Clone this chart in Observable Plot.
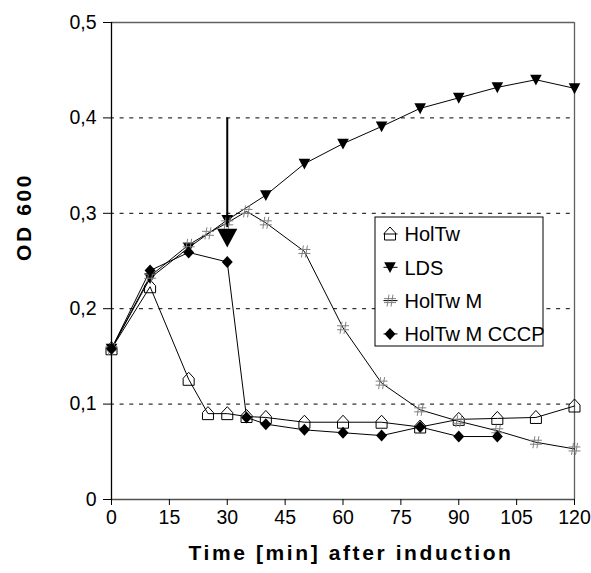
<!DOCTYPE html>
<html>
<head>
<meta charset="utf-8">
<script src="https://cdn.jsdelivr.net/npm/d3@7"></script>
<script src="https://cdn.jsdelivr.net/npm/@observablehq/plot@0.6"></script>
<style>
  html, body { margin: 0; padding: 0; background: #fff; }
  svg { font-family: "Liberation Sans", Arial, sans-serif; }
</style>
</head>
<body>
<div id="chart"></div>
<script>
// ---- data ----
const seriesNames = ["HolTw", "LDS", "HolTw M", "HolTw M CCCP"];

const holtwTime = [0, 10, 20, 25, 30, 35, 40, 50, 60, 70, 80, 90, 100, 110, 120];
const holtwOD   = [0.158, 0.223, 0.126, 0.090, 0.090, 0.087, 0.086, 0.081, 0.081, 0.081, 0.076, 0.084, 0.085, 0.086, 0.098];

const ldsTime = [0, 10, 20, 30, 40, 50, 60, 70, 80, 90, 100, 110, 120];
const ldsOD   = [0.158, 0.232, 0.264, 0.293, 0.319, 0.352, 0.373, 0.391, 0.410, 0.421, 0.432, 0.440, 0.431];

const holtwMTime = [0, 10, 20, 25, 30, 35, 40, 50, 60, 70, 80, 90, 100, 110, 120];
const holtwMOD   = [0.158, 0.234, 0.267, 0.279, 0.290, 0.302, 0.290, 0.260, 0.180, 0.122, 0.094, 0.082, 0.072, 0.060, 0.053];

const cccpTime = [0, 10, 20, 30, 35, 40, 50, 60, 70, 80, 90, 100];
const cccpOD   = [0.158, 0.240, 0.259, 0.249, 0.086, 0.079, 0.073, 0.070, 0.067, 0.076, 0.066, 0.066];

// induction arrow (time, from OD, to OD)
const arrowTime = [30];
const arrowFrom = [0.4];
const arrowTo = [0.285];
const arrowHead = [0.2746];

const xTicks = [0, 15, 30, 45, 60, 75, 90, 105, 120];
const yTicks = [0, 0.1, 0.2, 0.3, 0.4, 0.5];
const gridValues = [0.1, 0.2, 0.3, 0.4];

const xLabel = "Time [min] after induction";
const yLabel = "OD 600";

// ---- symbols ----
const house = { draw(ctx, size) { const k = Math.sqrt(size / Math.PI) / 5;
  ctx.moveTo(-5.5*k, 6*k); ctx.lineTo(5.5*k, 6*k); ctx.lineTo(5.5*k, -1*k);
  ctx.lineTo(0, -7*k); ctx.lineTo(-5.5*k, -1*k); ctx.closePath(); } };
const triDown = { draw(ctx, size) { const k = Math.sqrt(size / Math.PI) / 5;
  ctx.moveTo(-5.8*k, -5*k); ctx.lineTo(5.8*k, -5*k); ctx.lineTo(0, 5.8*k); ctx.closePath(); } };
const hash = { draw(ctx, size) { const k = Math.sqrt(size / Math.PI) / 5;
  ctx.moveTo(-1*k, -6*k); ctx.lineTo(-3*k, 6*k);
  ctx.moveTo(3*k, -6*k); ctx.lineTo(1*k, 6*k);
  ctx.moveTo(-6*k, -2*k); ctx.lineTo(6*k, -2*k);
  ctx.moveTo(-6*k, 2*k); ctx.lineTo(6*k, 2*k); } };
const diamond = { draw(ctx, size) { const k = Math.sqrt(size / Math.PI) / 5;
  ctx.moveTo(0, -6*k); ctx.lineTo(5.5*k, 0); ctx.lineTo(0, 6*k); ctx.lineTo(-5.5*k, 0); ctx.closePath(); } };

const zipS = (t, v) => t.map((x, i) => ({t: x, od: v[i]}));
const holtw = zipS(holtwTime, holtwOD);
const lds = zipS(ldsTime, ldsOD);
const holtwM = zipS(holtwMTime, holtwMOD);
const cccp = zipS(cccpTime, cccpOD);
const arrow = arrowTime.map((t, i) => ({t, y1: arrowFrom[i], y2: arrowTo[i], head: arrowHead[i]}));

const styles = [
  {symbol: house, fill: "none", stroke: "black", strokeWidth: 1},
  {symbol: triDown, fill: "black", stroke: "none"},
  {symbol: hash, fill: "none", stroke: "#808080", strokeWidth: 1},
  {symbol: diamond, fill: "black", stroke: "none"}
];
const allSeries = [holtw, lds, holtwM, cccp];

// legend layout (converted from pixel positions to the chart frame's units)
const W = 591, H = 573, mL = 111, mR = 17, mT = 22, mB = 74;
const px2y = py => 0.5 * (H - mB - py) / (H - mB - mT);
const px2x = px => 120 * (px - mL) / (W - mR - mL);
const legTop = 217, legBottom = 346, legLeft = 375, legRight = 543;
const legRows = seriesNames.map((n, i) => ({name: n, i, y: px2y(233.5 + i * 33.3)}));

const marks = [
  Plot.ruleY(gridValues, {stroke: "black", strokeWidth: 1, strokeDasharray: "4,5.7", strokeDashoffset: 1.1}),
  Plot.ruleY([0.5], {stroke: "#606060", strokeWidth: 1.3}),
  Plot.ruleX([120], {stroke: "#606060", strokeWidth: 1.3}),
  Plot.ruleY([0], {stroke: "#505050", strokeWidth: 1.3}),
  Plot.ruleX([0], {stroke: "black", strokeWidth: 1.3}),
  ...allSeries.map(s => Plot.line(s, {x: "t", y: "od", stroke: "black", strokeWidth: 1})),
  ...allSeries.map((s, i) => Plot.dot(s, {x: "t", y: "od", r: 5, ...styles[i]})),
  Plot.ruleX(arrow, {x: "t", y1: "y1", y2: "y2", stroke: "black", strokeWidth: 2}),
  Plot.dot(arrow, {x: "t", y: "head", r: 8.7, symbol: triDown, fill: "black", stroke: "none"}),
  // legend
  Plot.rect([0], {x1: px2x(legLeft), x2: px2x(legRight), y1: px2y(legBottom), y2: px2y(legTop), fill: "white", stroke: "black", strokeWidth: 1}),
  Plot.link(legRows, {x1: px2x(383), x2: px2x(397), y1: "y", y2: "y", stroke: "black", strokeWidth: 1}),
  ...seriesNames.map((n, i) => Plot.dot([legRows[i]], {x: px2x(389.5), y: "y", r: 5, ...styles[i]})),
  Plot.text(legRows, {x: px2x(404), y: "y", text: "name", textAnchor: "start", fontSize: 20, fill: "black", dy: 1}),
  // axes
  Plot.axisY({ticks: yTicks, tickSize: 8, tickPadding: 7, fontSize: 19.5, stroke: "black", fill: "black",
    tickFormat: d => d === 0 ? "0" : d.toFixed(1).replace(".", ","), label: null}),
  Plot.axisX({ticks: xTicks, tickSize: 6, tickPadding: 5, fontSize: 19.5, stroke: "black", fill: "black",
    tickFormat: d => String(d), label: null}),
  Plot.text([yLabel], {frameAnchor: "left", dx: -87, rotate: -90, fontWeight: "bold", fontSize: 21, fill: "black"}),
  Plot.text([xLabel], {frameAnchor: "bottom", dx: 8, dy: 60, fontWeight: "bold", fontSize: 21, fill: "black"})
];

const chart = Plot.plot({
  width: W, height: H,
  marginLeft: mL, marginRight: mR, marginTop: mT, marginBottom: mB,
  x: {domain: [0, 120]},
  y: {domain: [0, 0.5]},
  style: {fontFamily: '"Liberation Sans", Arial, sans-serif', background: "white", color: "black", overflow: "visible"},
  marks
});
document.getElementById("chart").appendChild(chart);

d3.select(chart).selectAll("text").each(function() {
  const t = this.textContent;
  if (t === xLabel || t === yLabel) this.style.letterSpacing = "2.6px";
});
</script>
</body>
</html>
